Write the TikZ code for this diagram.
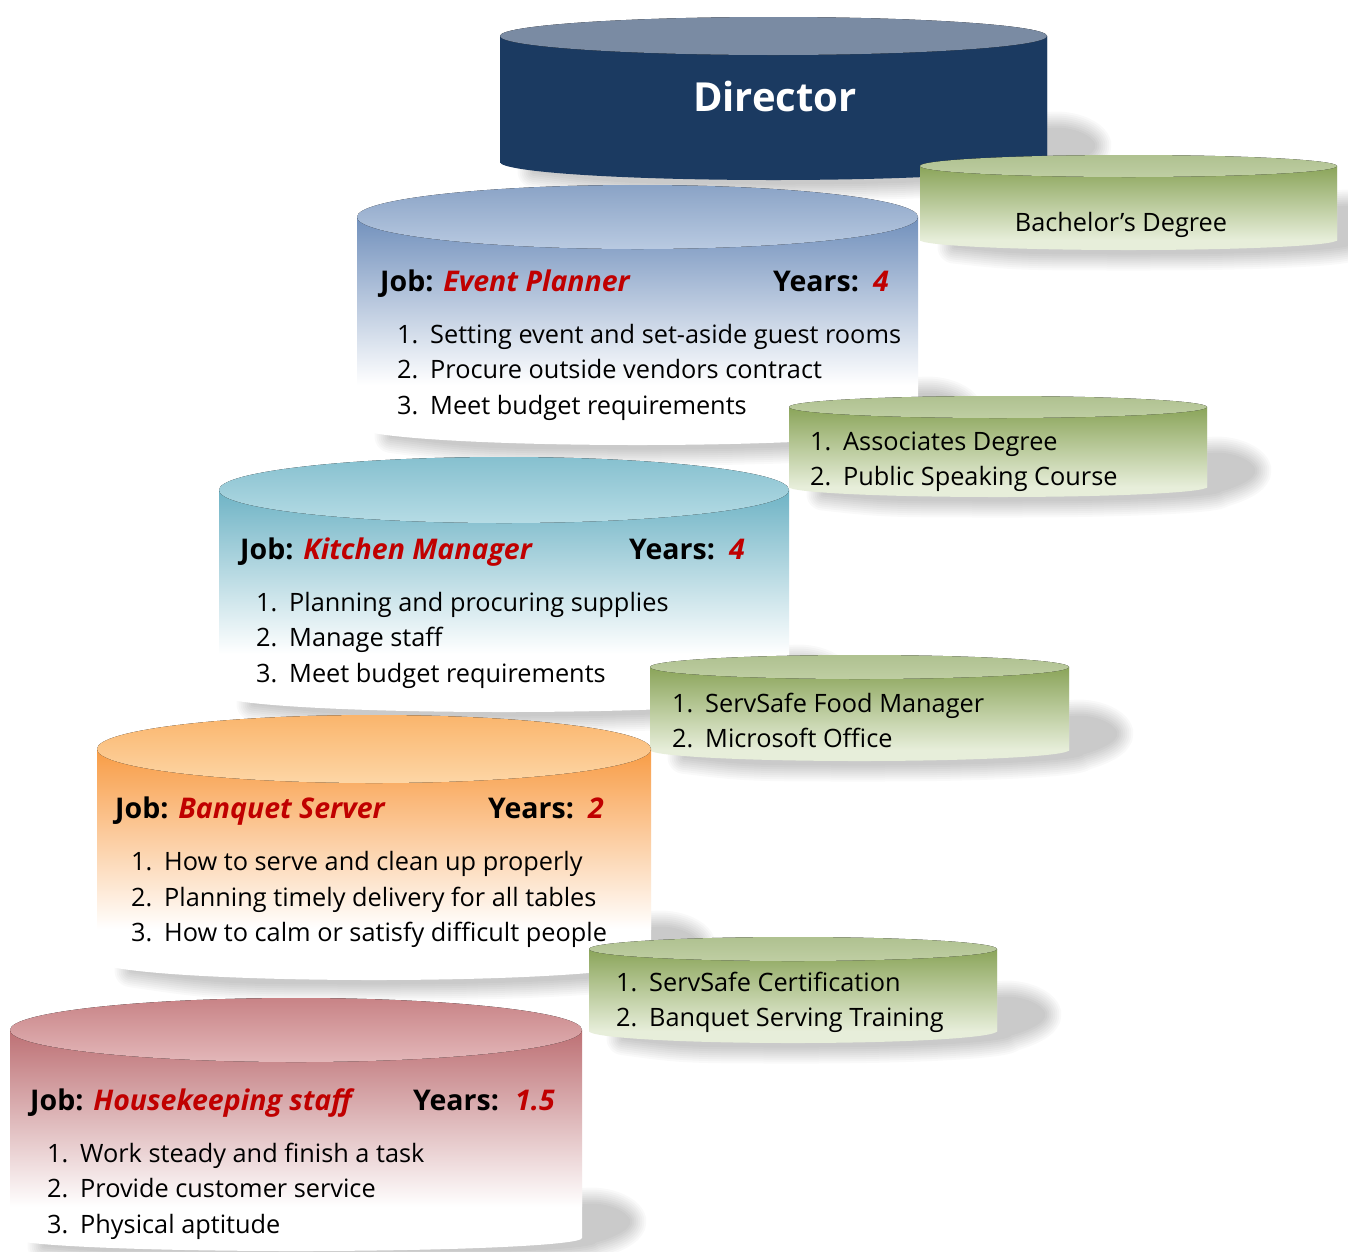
\documentclass[tikz,border=0pt]{standalone}
\usepackage{fontspec}
\setmainfont{Open Sans}
\definecolor{ep1}{HTML}{8AA3C6}\definecolor{ep2}{HTML}{B9CAE1}\definecolor{ep3}{HTML}{7190BC}\definecolor{ep4}{HTML}{D3DFEF}\definecolor{ep5}{HTML}{FFFFFF}
\definecolor{km1}{HTML}{86C0CF}\definecolor{km2}{HTML}{B6DCE5}\definecolor{km3}{HTML}{6EB3C5}\definecolor{km4}{HTML}{D3EDF3}\definecolor{km5}{HTML}{FFFFFF}
\definecolor{bs1}{HTML}{FAB56C}\definecolor{bs2}{HTML}{FDD6A6}\definecolor{bs3}{HTML}{F89C45}\definecolor{bs4}{HTML}{FDDCC0}\definecolor{bs5}{HTML}{FFFFFF}
\definecolor{hk1}{HTML}{C88386}\definecolor{hk2}{HTML}{E3B7B9}\definecolor{hk3}{HTML}{BD7074}\definecolor{hk4}{HTML}{F1D6D7}\definecolor{hk5}{HTML}{FFFFFF}
\definecolor{gr1}{HTML}{AFC190}\definecolor{gr2}{HTML}{BFCEA3}\definecolor{gr3}{HTML}{8AA459}\definecolor{gr4}{HTML}{B6C894}\definecolor{gr5}{HTML}{E7EEDA}
\definecolor{dr1}{HTML}{7A8BA3}\definecolor{dr2}{HTML}{7A8BA3}\definecolor{dr3}{HTML}{1B3A61}\definecolor{dr4}{HTML}{1B3A61}\definecolor{dr5}{HTML}{1B3A61}
\definecolor{jobred}{HTML}{C00000}

% #1 name, #2 xl, #3 xr, #4 top centre y, #5 top ry, #6 bottom centre y, #7 bottom ry, #8 colour prefix, #9 gradient fraction
\newcommand\mycyl[9]{%
  \pgfmathsetmacro\cxl{#2}%
  \pgfmathsetmacro\cxr{#3}%
  \pgfmathsetmacro\cxc{(#2+#3)/2}%
  \pgfmathsetmacro\ca{(#3-#2)/2}%
  \pgfmathsetmacro\cyt{-#4}%
  \pgfmathsetmacro\cyb{-#6}%
  \pgfmathsetmacro\crt{#5}%
  \pgfmathsetmacro\crb{#7}%
  \pgfmathsetmacro\cyg{-#4-#9*(#6-#4)}%
  \begin{scope}[shift={(14,-4)}]
    \foreach \w in {1pt,5pt,9pt,13pt,17pt,21pt,25pt,29pt,33pt}{
      \begin{scope}[transparency group, opacity=.024]
      \filldraw[black, line width=\w, line join=round]
        (\cxl+20,\cyb+10) -- (\cxl+20,\cyb-0.3*\crb) .. controls (\cxc-0.6*\ca,\cyb-\crb) .. (\cxc,\cyb-\crb)
        .. controls (\cxc+0.5523*\ca,\cyb-\crb) and (\cxr,\cyb-0.5523*\crb) .. (\cxr,\cyb)
        .. controls (\cxr+22,\cyb+6) and (\cxr+40,\cyb+16) .. (\cxr+32,\cyb+25)
        .. controls (\cxr+25,\cyb+33) and (\cxr+10,\cyb+38) .. (\cxr-5,\cyb+38) -- cycle;
      \end{scope}
    }
  \end{scope}
  \fill[#85]
    (\cxl,\cyt) -- (\cxl,\cyb) .. controls (\cxl,\cyb-0.5523*\crb) and (\cxc-0.5523*\ca,\cyb-\crb) .. (\cxc,\cyb-\crb)
    .. controls (\cxc+0.5523*\ca,\cyb-\crb) and (\cxr,\cyb-0.5523*\crb) .. (\cxr,\cyb) -- (\cxr,\cyt) -- cycle;
  \fill[top color=#83, middle color=#84, bottom color=#85] (\cxl,\cyt) rectangle (\cxr,\cyg);
  \fill[top color=#81, bottom color=#82] (\cxc,\cyt) ellipse [x radius=\ca, y radius=\crt];
  \coordinate (#1) at (\cxc,\cyt);
}
\newcommand\itm[5]{\node[itemtxt] (#1) at (#2,-#3) {\makebox[33pt][l]{#4}#5};}
\newcommand\jobline[7]{%
  \node[jobtxt] (#1a) at (#2,-#3) {Job: \textcolor{jobred}{\itshape #4}};
  \node[jobtxt] (#1b) at (#5,-#3) {Years:};
  \node[jobtxt] (#1c) at (#6,-#3) {\textcolor{jobred}{\itshape #7}};
}
\tikzset{
  itemtxt/.style={anchor=base west, inner sep=0pt, font=\fontsize{25.3}{30}\selectfont},
  jobtxt/.style={anchor=base west, inner sep=0pt, font=\fontsize{28.5}{34}\selectfont\bfseries},
}
\begin{document}
\begin{tikzpicture}[x=1pt,y=1pt]
\useasboundingbox (0,-1251) rectangle (1348,0);
\fill[white] (0,-1251) rectangle (1348,0);

% Director
\mycyl{cdir}{500}{1047}{36}{19}{162}{18}{dr}{1}
\node[anchor=base, inner sep=0pt, text=white, font=\fontsize{40}{46}\selectfont\bfseries] (tdir) at (775,-111) {Director};

% Bachelor
\mycyl{cbach}{920}{1337}{166}{11}{240}{10}{gr}{1}
\node[anchor=base, inner sep=0pt, font=\fontsize{25.3}{30}\selectfont] (tbach) at (1121,-231) {Bachelor’s Degree};

% Event Planner
\mycyl{cev}{357}{918}{217}{32}{427}{18}{ep}{0.8}
\jobline{jev}{380}{291}{Event Planner}{773}{873}{4}
\itm{ev1}{397}{343}{1.}{Setting event and set-aside guest rooms}
\itm{ev2}{397}{378}{2.}{Procure outside vendors contract}
\itm{ev3}{397}{414}{3.}{Meet budget requirements}

% Associates
\mycyl{cas}{789}{1207}{407}{11}{487}{10}{gr}{1}
\itm{as1}{810}{450}{1.}{Associates Degree}
\itm{as2}{810}{485}{2.}{Public Speaking Course}

% Kitchen Manager
\mycyl{ckm}{219}{789}{490}{33}{695}{17}{km}{0.8}
\jobline{jkm}{240}{559}{Kitchen Manager}{629}{729}{4}
\itm{km1}{256}{611}{1.}{Planning and procuring supplies}
\itm{km2}{256}{646}{2.}{Manage staff}
\itm{km3}{256}{682}{3.}{Meet budget requirements}

% ServSafe Food Manager
\mycyl{csf}{650}{1069}{667}{12}{750}{11}{gr}{1}
\itm{sf1}{672}{712}{1.}{ServSafe Food Manager}
\itm{sf2}{672}{747}{2.}{Microsoft Office}

% Banquet Server
\mycyl{cbs}{97}{651}{749}{34}{961}{19}{bs}{0.85}
\jobline{jbs}{115}{818}{Banquet Server}{488}{588}{2}
\itm{bs1}{131}{870}{1.}{How to serve and clean up properly}
\itm{bs2}{131}{906}{2.}{Planning timely delivery for all tables}
\itm{bs3}{131}{941}{3.}{How to calm or satisfy difficult people}

% ServSafe Certification
\mycyl{csc}{589}{997}{949}{12}{1031}{12}{gr}{1}
\itm{sc1}{616}{991}{1.}{ServSafe Certification}
\itm{sc2}{616}{1026}{2.}{Banquet Serving Training}

% Housekeeping
\mycyl{chk}{10}{582}{1030}{32}{1238}{13}{hk}{0.85}
\jobline{jhk}{30}{1110}{Housekeeping staff}{413}{515}{1.5}
\itm{hk1}{47}{1162}{1.}{Work steady and finish a task}
\itm{hk2}{47}{1197}{2.}{Provide customer service}
\itm{hk3}{47}{1233}{3.}{Physical aptitude}
\end{tikzpicture}
\end{document}
